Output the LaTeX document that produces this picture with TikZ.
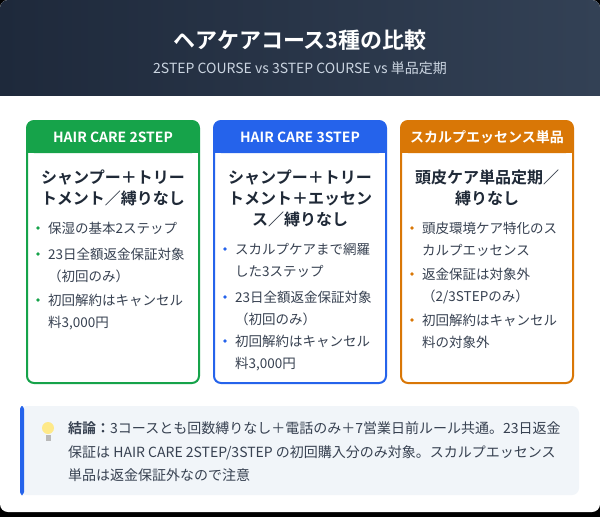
\documentclass[tikz,border=0pt]{standalone}
\usepackage{fontspec}
\setmainfont{Noto Sans CJK JP}[BoldFont={* Bold}]
\usetikzlibrary{positioning}
\definecolor{navyA}{HTML}{1E293B}
\definecolor{navyB}{HTML}{334155}
\definecolor{subgray}{HTML}{CBD5E1}
\definecolor{ink}{HTML}{1F2937}
\definecolor{txt}{HTML}{374151}
\definecolor{cgreen}{HTML}{16A34A}
\definecolor{cblue}{HTML}{2563EB}
\definecolor{corange}{HTML}{D97706}
\definecolor{notebg}{HTML}{F1F5F9}
\newcommand{\fs}[1]{\fontsize{#1}{#1}\selectfont}
\begin{document}
\begin{tikzpicture}[x=1pt,y=-1pt,
  cardtitle/.style={font=\bfseries\fs{16},text=ink,align=center},
  bandtext/.style={font=\bfseries\fs{14},text=white},
  item/.style={font=\fs{13.5},text=txt,anchor=base west,inner sep=0pt},
  notetext/.style={font=\fs{14},text=txt,anchor=base west,inner sep=0pt}]
\useasboundingbox (0,0) rectangle (600,517);
\fill[black] (0,0) rectangle (600,517);
\fill[white,rounded corners=8pt] (0,0) rectangle (600,512);
\begin{scope}
\clip[rounded corners=8pt] (0,0) rectangle (600,120);
\shade[left color=navyA,right color=navyB] (0,0) rectangle (600,95);
\end{scope}
\node (title) [font=\bfseries\fs{22},text=white] at (300,40) {ヘアケアコース3種の比較};
\node (sub) [font=\fs{14},text=subgray] at (300,68) {2STEP COURSE vs 3STEP COURSE vs 単品定期};
% cards
\foreach \x/\c/\h/\n in {27/cgreen/HAIR CARE 2STEP/c1,214/cblue/HAIR CARE 3STEP/c2,401/corange/スカルプエッセンス単品/c3}{
  \draw[\c,line width=2pt,rounded corners=7pt,fill=white] (\x,121) rectangle ++(172,262);
  \fill[\c,rounded corners=7pt] (\x,121) rectangle ++(172,32);
  \fill[\c] (\x,140) rectangle ++(172,13);
  \node (\n) [bandtext] at (\x+86,137) {\h};
}
\node (t1) [cardtitle] at (113,188) {シャンプー＋トリー\\[5pt]トメント／縛りなし};
\node (t2) [cardtitle] at (300,198) {シャンプー＋トリー\\[5pt]トメント＋エッセン\\[5pt]ス／縛りなし};
\node (t3) [cardtitle] at (487,188) {頭皮ケア単品定期／\\[5pt]縛りなし};
% bullets
\foreach \x/\y/\c in {38/228/cgreen,38/254/cgreen,38/300/cgreen,
  225/249/cblue,225/297/cblue,225/341/cblue,
  412/228/corange,412/274/corange,412/320/corange}
  \fill[\c] (\x,\y) circle (1.8pt);
\foreach \x/\y/\t in {48/233/保湿の基本2ステップ,48/259/23日全額返金保証対象,48/281/（初回のみ）,48/305/初回解約はキャンセル,48/327/料3{,}000円,
  235/254/スカルプケアまで網羅,235/276/した3ステップ,235/302/23日全額返金保証対象,235/324/（初回のみ）,235/346/初回解約はキャンセル,235/368/料3{,}000円,
  422/233/頭皮環境ケア特化のス,422/255/カルプエッセンス,422/279/返金保証は対象外,422/301/{（2/3STEPのみ）},422/325/初回解約はキャンセル,422/347/料の対象外}
  \node [item] at (\x,\y) {\t};
% note
\fill[notebg,rounded corners=7pt] (20,406) rectangle (579,495);
\fill[cblue,rounded corners=3pt] (20,406) rectangle (24,495);
\fill[yellow!70!orange!45] (48,428) circle (6pt);
\fill[gray!55] (45.5,435) rectangle (50.5,441);
\node [notetext] at (68,433) {{\bfseries 結論：}3コースとも回数縛りなし＋電話のみ＋7営業日前ルール共通。23日返金};
\node [notetext] at (68,457) {保証は HAIR CARE 2STEP/3STEP の初回購入分のみ対象。スカルプエッセンス};
\node [notetext] at (68,480) {単品は返金保証外なので注意};
\end{tikzpicture}
\end{document}
